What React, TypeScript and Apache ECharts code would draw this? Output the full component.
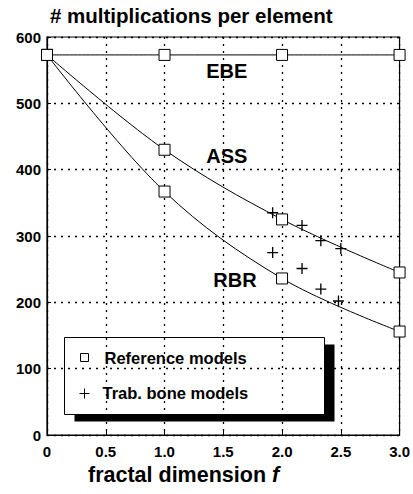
import React, { useEffect, useRef } from "react";
import * as echarts from "echarts";

const refF = [0, 1, 2, 3];
const ebeValues = [573, 573, 573, 573];
const assValues = [573, 430, 325, 245];
const rbrValues = [573, 367, 236, 156];
const boneF = [1.92, 2.17, 2.33, 2.5, 1.92, 2.17, 2.33, 2.48];
const boneValues = [335, 316, 293, 281, 275, 251, 220, 202];
const curveLabels = ["EBE", "ASS", "RBR"];
const curveLabelF = [1.53, 1.53, 1.6];
const curveLabelValues = [549, 421, 233];
const xTicks = [0, 0.5, 1, 1.5, 2, 2.5, 3];
const legendNames = ["Reference models", "Trab. bone models"];

const FONT = "Liberation Sans";
const PLUS = "path://M4.4,0H5.6V10H4.4ZM0,4.4H10V5.6H0Z";

export default function App() {
  const ref = useRef<HTMLDivElement>(null);
  useEffect(() => {
    document.body.style.margin = "0";
    const chart = echarts.init(ref.current!, null, { renderer: "svg" });
    const sq = {
      symbol: "rect",
      symbolSize: 11,
      itemStyle: { color: "#fff", borderColor: "#000", borderWidth: 1 },
    };
    const lineSeries = (vals: number[], name: string) => ({
      type: "line",
      name,
      data: refF.map((f, i) => [f, vals[i]]),
      smooth: 0.35,
      lineStyle: { color: "#000", width: 1 },
      ...sq,
    });
    chart.setOption({
      animation: false,
      backgroundColor: "#fff",
      textStyle: { fontFamily: FONT },
      grid: { left: 47, right: 12, top: 37, bottom: 59, show: true, borderColor: "#000", borderWidth: 1.2 },
      xAxis: {
        type: "value",
        min: 0,
        max: 3,
        interval: 0.5,
        axisLine: { lineStyle: { color: "#000", width: 1.2 } },
        axisTick: { inside: true, length: 4, lineStyle: { color: "#000" } },
        splitLine: { show: true, lineStyle: { color: "#000", type: [2, 5], width: 1.3 } },
        axisLabel: {
          color: "#000",
          fontSize: 15,
          fontWeight: "bold",
          fontFamily: FONT,
          margin: 9,
          formatter: (v: number) => (xTicks.indexOf(v) === 0 ? "0" : v.toFixed(1)),
        },
      },
      yAxis: {
        type: "value",
        min: 0,
        max: 600,
        interval: 100,
        axisLine: { lineStyle: { color: "#000", width: 1.2 } },
        axisTick: { inside: true, length: 4, lineStyle: { color: "#000" } },
        splitLine: { show: true, lineStyle: { color: "#000", type: [2, 5], width: 1.3 } },
        axisLabel: { color: "#000", fontSize: 15, fontWeight: "bold", fontFamily: FONT, margin: 6 },
      },
      graphic: [
        {
          type: "text",
          left: 50,
          top: 5,
          style: { text: "# multiplications per element", fontSize: 20.5, fontWeight: "bold", fill: "#000", fontFamily: FONT },
        },
        {
          type: "text",
          left: 88,
          top: 464,
          style: {
            text: "{a|fractal dimension }{b|f}",
            rich: {
              a: { fontSize: 21.5, fontWeight: "bold", fill: "#000", fontFamily: FONT },
              b: { fontSize: 21.5, fontWeight: "bold", fontStyle: "italic", fill: "#000", fontFamily: FONT },
            },
          },
        },
        {
          type: "group",
          left: 64,
          top: 337,
          children: [
            { type: "rect", shape: { x: 10, y: 7, width: 260, height: 77 }, style: { fill: "#000" } },
            { type: "rect", shape: { x: 0, y: 0, width: 260, height: 77 }, style: { fill: "#fff", stroke: "#000", lineWidth: 1 } },
            { type: "rect", shape: { x: 16, y: 16, width: 8, height: 8 }, style: { fill: "#fff", stroke: "#000", lineWidth: 1 } },
            {
              type: "text",
              x: 40,
              y: 20,
              style: { text: legendNames[0], fontSize: 16.5, fontWeight: "bold", fill: "#000", fontFamily: FONT, verticalAlign: "middle" },
            },
            { type: "line", shape: { x1: 15, y1: 56, x2: 25, y2: 56 }, style: { stroke: "#000", lineWidth: 1 } },
            { type: "line", shape: { x1: 20, y1: 51, x2: 20, y2: 61 }, style: { stroke: "#000", lineWidth: 1 } },
            {
              type: "text",
              x: 38,
              y: 55,
              style: { text: legendNames[1], fontSize: 16.5, fontWeight: "bold", fill: "#000", fontFamily: FONT, verticalAlign: "middle" },
            },
          ],
        },
      ],
      series: [
        lineSeries(ebeValues, "EBE"),
        lineSeries(assValues, "ASS"),
        lineSeries(rbrValues, "RBR"),
        {
          type: "scatter",
          name: legendNames[1],
          data: boneF.map((f, i) => [f, boneValues[i]]),
          symbol: PLUS,
          symbolSize: 11,
          itemStyle: { color: "#000", opacity: 1 },
        },
        {
          type: "scatter",
          data: curveLabels.map((n, i) => ({ name: n, value: [curveLabelF[i], curveLabelValues[i]] })),
          symbolSize: 0,
          itemStyle: { opacity: 1 },
          label: {
            show: true,
            position: "inside",
            formatter: (p: any) => p.name,
            fontSize: 20,
            fontWeight: "bold",
            color: "#000",
            opacity: 1,
            textBorderWidth: 0,
            fontFamily: FONT,
          },
        },
      ],
    });
    return () => chart.dispose();
  }, []);
  return <div ref={ref} style={{ width: 413, height: 494 }} />;
}
